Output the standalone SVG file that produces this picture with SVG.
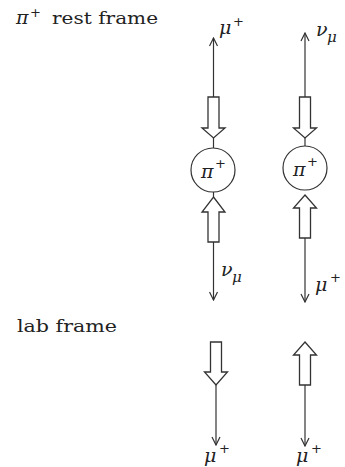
<svg xmlns="http://www.w3.org/2000/svg" width="345" height="467" viewBox="0 0 345 467">
  <defs>
    <marker id="vee" viewBox="0 0 10 10" refX="9" refY="5" markerWidth="10" markerHeight="10" markerUnits="userSpaceOnUse" orient="auto">
      <path d="M1,1 L9,5 L1,9" fill="none" stroke="#333" stroke-width="1.2"/>
    </marker>
  </defs>
  <style>
    .line { stroke: #333; stroke-width: 1.2; fill: none; }
    .hollow { stroke: #333; stroke-width: 1.3; fill: #fff; stroke-linejoin: miter; }
    .ball { stroke: #333; stroke-width: 1.2; fill: #fff; }
    .head { font-family: "DejaVu Serif", "Liberation Serif", serif; font-size: 17.5px; fill: #222; }
    .sym { font-family: "DejaVu Serif", "Liberation Serif", serif; font-style: italic; font-size: 19px; fill: #222; }
    .sup { font-family: "DejaVu Sans", "Liberation Sans", sans-serif; font-size: 13px; fill: #222; }
    .sub { font-family: "DejaVu Serif", "Liberation Serif", serif; font-style: italic; font-size: 15px; fill: #222; }
  </style>

  <!-- section headings -->
  <g id="title-rest">
    <text class="sym" x="16" y="24">π</text>
    <text class="sup" x="30" y="17">+</text>
    <text class="head" x="52" y="24" textLength="106" lengthAdjust="spacingAndGlyphs">rest frame</text>
  </g>
  <g id="title-lab">
    <text class="head" x="17" y="332" textLength="100" lengthAdjust="spacingAndGlyphs">lab frame</text>
  </g>

  <!-- momentum lines and spin arrows -->
  <g id="connectors">
    <!-- rest frame, left column -->
    <line class="line" x1="213.5" y1="97" x2="213.5" y2="38" marker-end="url(#vee)"/>
    <line class="line" x1="213.5" y1="138" x2="213.5" y2="148"/>
    <line class="line" x1="213.5" y1="192" x2="213.5" y2="197"/>
    <line class="line" x1="213.5" y1="242" x2="213.5" y2="300" marker-end="url(#vee)"/>
    <polygon class="hollow" points="208,97 219,97 219,128 225,128 213.5,138 202,128 208,128"/>
    <polygon class="hollow" points="213.5,197 225,212 219,212 219,242 208,242 208,212 202,212"/>

    <!-- rest frame, right column -->
    <line class="line" x1="305" y1="97" x2="305" y2="33" marker-end="url(#vee)"/>
    <line class="line" x1="305" y1="138" x2="305" y2="146"/>
    <line class="line" x1="305" y1="238" x2="305" y2="302" marker-end="url(#vee)"/>
    <polygon class="hollow" points="299.5,97 310.5,97 310.5,128 316.5,128 305,138 293.5,128 299.5,128"/>
    <polygon class="hollow" points="305,195 316.5,208 310.5,208 310.5,238 299.5,238 299.5,208 293.5,208"/>

    <!-- lab frame -->
    <line class="line" x1="216" y1="385" x2="216" y2="445" marker-end="url(#vee)"/>
    <polygon class="hollow" points="210.5,342 221.5,342 221.5,372 227.5,372 216,385 204.5,372 210.5,372"/>
    <line class="line" x1="305" y1="385" x2="305" y2="446" marker-end="url(#vee)"/>
    <polygon class="hollow" points="305,342 316.5,355 310.5,355 310.5,385 299.5,385 299.5,355 293.5,355"/>
  </g>

  <!-- pions -->
  <g id="pion-left">
    <circle class="ball" cx="213" cy="170" r="22"/>
    <text class="sym" x="201" y="178">π</text>
    <text class="sup" x="215" y="168">+</text>
  </g>
  <g id="pion-right">
    <circle class="ball" cx="305" cy="168" r="22"/>
    <text class="sym" x="293" y="176">π</text>
    <text class="sup" x="307" y="166">+</text>
  </g>

  <!-- particle labels -->
  <g id="label-mu-top">
    <text class="sym" x="219" y="34">μ</text>
    <text class="sup" x="233" y="26">+</text>
  </g>
  <g id="label-nu-top">
    <text class="sym" x="316" y="36">ν</text>
    <text class="sub" x="327" y="42">μ</text>
  </g>
  <g id="label-nu-bottom">
    <text class="sym" x="221" y="276">ν</text>
    <text class="sub" x="232" y="282">μ</text>
  </g>
  <g id="label-mu-bottom">
    <text class="sym" x="315" y="291">μ</text>
    <text class="sup" x="330" y="282">+</text>
  </g>
  <g id="label-mu-lab-left">
    <text class="sym" x="204" y="462">μ</text>
    <text class="sup" x="219" y="453">+</text>
  </g>
  <g id="label-mu-lab-right">
    <text class="sym" x="296" y="462">μ</text>
    <text class="sup" x="311" y="453">+</text>
  </g>
</svg>
